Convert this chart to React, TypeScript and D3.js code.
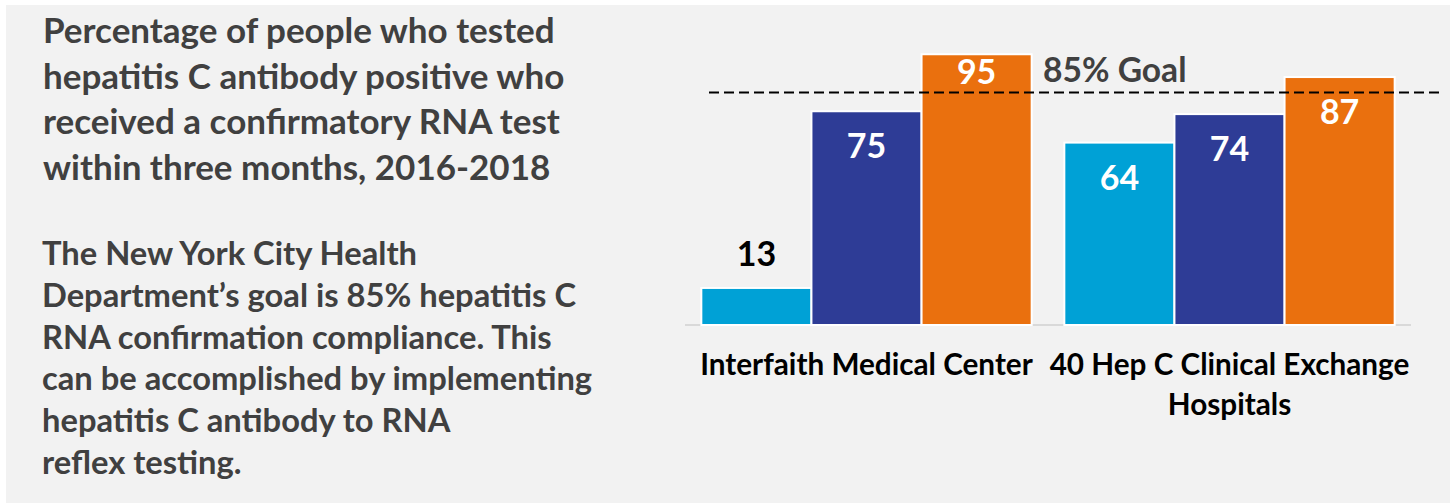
import * as d3 from "d3";
import React from "react";

// chart data
const categories = ["Interfaith Medical Center", "40 Hep C Clinical Exchange Hospitals"];
const categoryLines = [["Interfaith Medical Center"], ["40 Hep C Clinical Exchange", "Hospitals"]];
const seriesNames = ["2016", "2017", "2018"];
const values2016 = [13, 64];
const values2017 = [75, 74];
const values2018 = [95, 87];
const goalLabel = "85% Goal";
const goalLineAt = 81.6; // where the dashed line sits in the picture

const titleLines = [
  "Percentage of people who tested",
  "hepatitis C antibody positive who",
  "received a confirmatory RNA test",
  "within three months, 2016-2018",
];
const noteLines = [
  "The New York City Health",
  "Department\u2019s goal is 85% hepatitis C",
  "RNA confirmation compliance. This",
  "can be accomplished by implementing",
  "hepatitis C antibody to RNA",
  "reflex testing.",
];

const colors = ["#00a1d6", "#2e3c96", "#ea700e"];
const font = "Lato, 'Open Sans', sans-serif";

export default function App() {
  const width = 1454;
  const height = 503;
  const seriesValues = [values2016, values2017, values2018];

  const x0 = d3
    .scaleBand()
    .domain(categories)
    .range([685, 1411])
    .paddingInner(0.09)
    .paddingOuter(0.045);
  const x1 = d3.scaleBand().domain(seriesNames).range([0, x0.bandwidth()]);
  const y = d3.scaleLinear().domain([0, 100]).range([325, 40]);
  const goalY = y(goalLineAt);

  const labelY = (v) => {
    let base = y(v) + 47;
    // keep inside labels clear of the goal line
    if (base - 25 < goalY && base > goalY) base = goalY - 8;
    return base;
  };

  return (
    <svg
      width={width}
      height={height}
      style={{ position: "absolute", left: 0, top: 0, fontFamily: font }}
    >
      <rect x={0} y={0} width={width} height={height} fill="#ffffff" />
      <rect x={6} y={5} width={1444} height={498} fill="#f2f2f2" />

      <g fill="#404040" fontWeight={700} fontSize={35}>
        {titleLines.map((t, i) => (
          <text key={i} x={43} y={43 + i * 45.7}>
            {t}
          </text>
        ))}
      </g>
      <g fill="#404040" fontWeight={700} fontSize={32.7}>
        {noteLines.map((t, i) => (
          <text key={i} x={42} y={265 + i * 41.8}>
            {t}
          </text>
        ))}
      </g>

      <line x1={685} x2={1411} y1={y(0)} y2={y(0)} stroke="#d9d9d9" strokeWidth={2} />

      {categories.map((c, ci) => (
        <g key={c} transform={`translate(${x0(c)},0)`}>
          {seriesNames.map((s, si) => {
            const v = seriesValues[si][ci];
            return (
              <rect
                key={s}
                x={x1(s)}
                y={y(v)}
                width={x1.bandwidth()}
                height={y(0) - y(v)}
                fill={colors[si]}
                stroke="#ffffff"
                strokeWidth={2}
              />
            );
          })}
        </g>
      ))}

      <line
        x1={709}
        x2={1444}
        y1={goalY}
        y2={goalY}
        stroke="#000000"
        strokeWidth={2}
        strokeDasharray="10,5"
      />
      <text x={1043} y={81.7} fill="#404040" fontWeight={700} fontSize={33.6}>
        {goalLabel}
      </text>

      {categories.map((c, ci) =>
        seriesNames.map((s, si) => {
          const v = seriesValues[si][ci];
          const cx = x0(c) + x1(s) + x1.bandwidth() / 2;
          const inside = y(0) - y(v) > 60;
          return (
            <text
              key={c + s}
              x={cx}
              y={inside ? labelY(v) : y(v) - 22}
              textAnchor="middle"
              fontWeight={700}
              fontSize={34}
              fill={inside ? "#ffffff" : "#000000"}
            >
              {v}
            </text>
          );
        })
      )}

      <g fontWeight={700} fontSize={29.7} fill="#000000" textAnchor="middle">
        {categories.map((c, ci) => (
          <text key={c} x={x0(c) + x0.bandwidth() / 2} y={375}>
            {categoryLines[ci].map((line, li) => (
              <tspan key={li} x={x0(c) + x0.bandwidth() / 2} dy={li === 0 ? 0 : 40}>
                {line}
              </tspan>
            ))}
          </text>
        ))}
      </g>
    </svg>
  );
}
